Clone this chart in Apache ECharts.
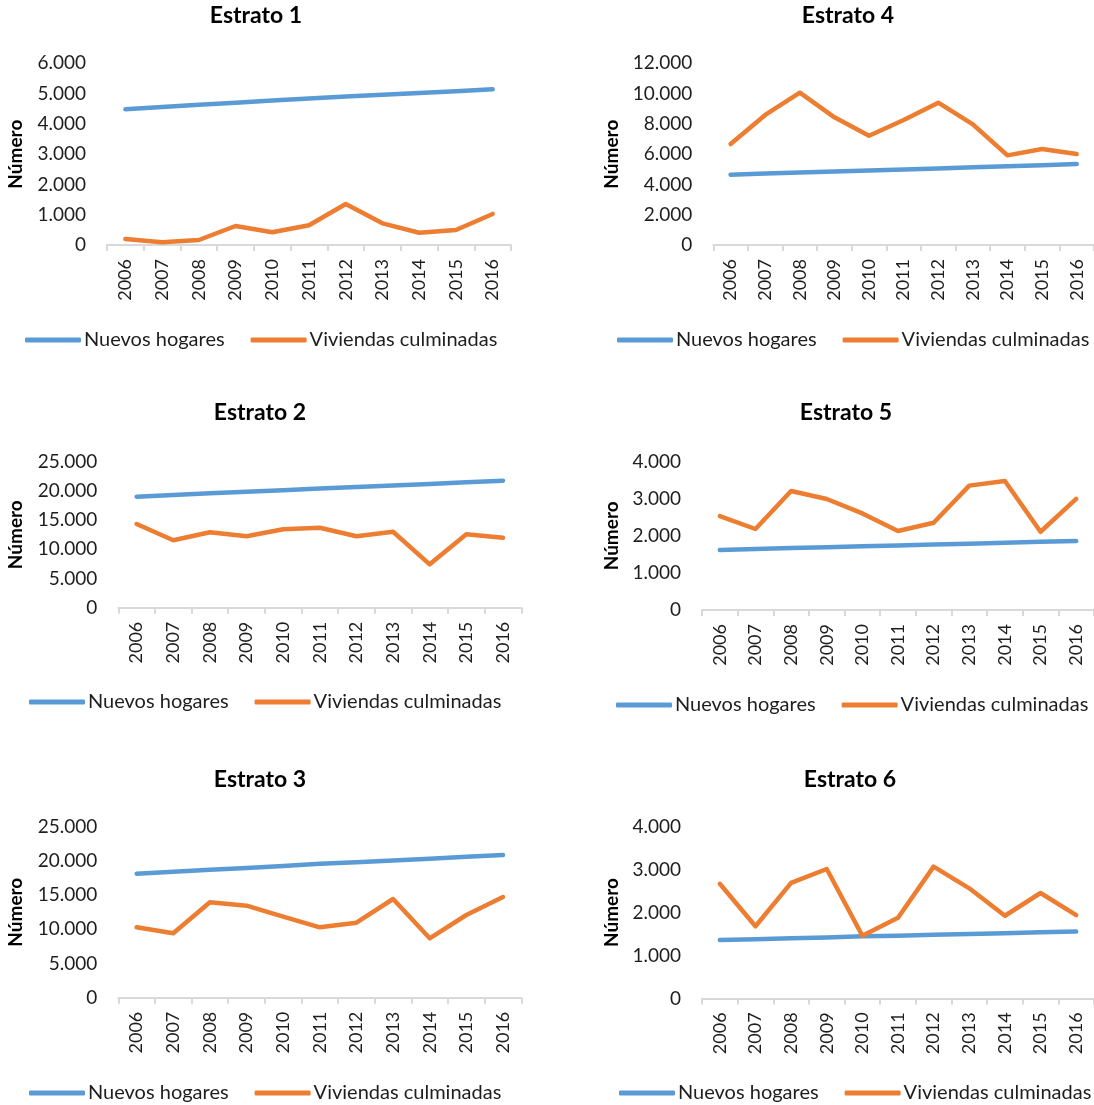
<!DOCTYPE html>
<html>
<head>
<meta charset="utf-8">
<title>Nuevos hogares y viviendas culminadas por estrato</title>
<script src="https://cdn.jsdelivr.net/npm/echarts@6/dist/echarts.min.js"></script>
<style>
  html, body { margin: 0; padding: 0; background: #ffffff; }
  #chart { width: 1094px; height: 1105px; }
</style>
</head>
<body>
<div id="chart"></div>
<script>
// Years on every category axis
const years = ['2006', '2007', '2008', '2009', '2010', '2011', '2012', '2013', '2014', '2015', '2016'];

const seriesNames = ['Nuevos hogares', 'Viviendas culminadas'];
const panelTitles = ['Estrato 1', 'Estrato 2', 'Estrato 3', 'Estrato 4', 'Estrato 5', 'Estrato 6'];

// Estrato 1
const hogares1 = [4480, 4560, 4630, 4700, 4770, 4840, 4900, 4960, 5020, 5080, 5140];
const viviendas1 = [200, 90, 165, 627, 420, 650, 1355, 715, 405, 495, 1025];

// Estrato 2
const hogares2 = [19010, 19300, 19580, 19850, 20120, 20390, 20660, 20930, 21190, 21470, 21750];
const viviendas2 = [14330, 11540, 12910, 12230, 13420, 13700, 12230, 13010, 7430, 12570, 11990];

// Estrato 3
const hogares3 = [18130, 18420, 18700, 18970, 19250, 19590, 19800, 20060, 20330, 20600, 20860];
const viviendas3 = [10290, 9420, 13950, 13450, 11840, 10290, 10970, 14430, 8680, 12090, 14720];

// Estrato 4
const hogares4 = [4640, 4720, 4790, 4860, 4920, 4990, 5060, 5130, 5200, 5270, 5350];
const viviendas4 = [6670, 8590, 10060, 8430, 7220, 8260, 9400, 7970, 5920, 6340, 6010];

// Estrato 5
const hogares5 = [1620, 1645, 1670, 1695, 1720, 1740, 1765, 1790, 1815, 1840, 1860];
const viviendas5 = [2535, 2185, 3210, 2995, 2605, 2130, 2355, 3355, 3480, 2110, 2995];

// Estrato 6
const hogares6 = [1360, 1380, 1400, 1420, 1445, 1460, 1480, 1500, 1520, 1540, 1560];
const viviendas6 = [2670, 1680, 2690, 3015, 1460, 1880, 3070, 2565, 1925, 2455, 1940];

// Value axis ranges per estrato
const axisMax = [6000, 25000, 25000, 12000, 4000, 4000];
const axisStep = [1000, 5000, 5000, 2000, 1000, 1000];

const hogares = [hogares1, hogares2, hogares3, hogares4, hogares5, hogares6];
const viviendas = [viviendas1, viviendas2, viviendas3, viviendas4, viviendas5, viviendas6];

// Panel boxes: plot area, title centre, axis-name gap and legend anchor
const panels = [
  { left: 107,   top: 63.3,  width: 404,   height: 181.7, titleX: 256, titleY: 4,   nameGap: 82, legendX: 25,  legendY: 330 },
  { left: 118.3, top: 461.7, width: 403,   height: 146,   titleX: 260, titleY: 401, nameGap: 93, legendX: 29,  legendY: 692 },
  { left: 118.3, top: 826.7, width: 403,   height: 171,   titleX: 260, titleY: 768, nameGap: 93, legendX: 29,  legendY: 1083 },
  { left: 713.3, top: 63.3,  width: 386.5, height: 181.7, titleX: 848, titleY: 4,   nameGap: 92, legendX: 617, legendY: 330 },
  { left: 702,   top: 461.7, width: 394,   height: 148.3, titleX: 846, titleY: 401, nameGap: 81, legendX: 616, legendY: 695 },
  { left: 702,   top: 826.7, width: 403,   height: 171.7, titleX: 850, titleY: 768, nameGap: 81, legendX: 619, legendY: 1083 }
];

const FONT = 'Lato, "Open Sans", sans-serif';
const TEXT = '#1e1e1e';
const BLUE = '#5b9bd5';
const ORANGE = '#ed7d31';

function thousands(v) {
  return String(v).replace(/\B(?=(\d{3})+(?!\d))/g, '.');
}

const option = {
  backgroundColor: '#ffffff',
  animation: false,
  title: [],
  legend: [],
  grid: [],
  xAxis: [],
  yAxis: [],
  series: []
};

panels.forEach(function (p, i) {
  option.title.push({
    text: panelTitles[i],
    left: p.titleX,
    top: p.titleY,
    textAlign: 'center',
    padding: 0,
    textStyle: { fontFamily: FONT, fontSize: 23, fontWeight: 'bold', color: '#000' }
  });

  option.grid.push({ left: p.left, top: p.top, width: p.width, height: p.height, containLabel: false });

  option.xAxis.push({
    type: 'category',
    gridIndex: i,
    data: years,
    boundaryGap: true,
    axisLine: { show: true, lineStyle: { color: '#d9d9d9', width: 2 } },
    axisTick: { show: true, length: 6, lineStyle: { color: '#d9d9d9', width: 2 } },
    axisLabel: { rotate: 90, margin: 14, fontFamily: FONT, fontSize: 18, color: TEXT, interval: 0 },
    splitLine: { show: false }
  });

  option.yAxis.push({
    type: 'value',
    gridIndex: i,
    min: 0,
    max: axisMax[i],
    interval: axisStep[i],
    name: 'Número',
    nameLocation: 'middle',
    nameGap: p.nameGap,
    nameTextStyle: { fontFamily: FONT, fontSize: 19, fontWeight: 'bold', color: '#000' },
    axisLine: { show: false },
    axisTick: { show: false },
    splitLine: { show: false },
    axisLabel: { margin: 21, fontFamily: FONT, fontSize: 19, color: TEXT, formatter: thousands }
  });

  option.legend.push({
    data: seriesNames,
    left: p.legendX,
    top: p.legendY,
    padding: 0,
    itemGap: 26,
    itemWidth: 56,
    itemHeight: 5,
    icon: 'roundRect',
    textStyle: { fontFamily: FONT, fontSize: 20, color: TEXT, padding: [0, 0, 0, -2] }
  });

  option.series.push({
    name: seriesNames[0],
    type: 'line',
    xAxisIndex: i,
    yAxisIndex: i,
    data: hogares[i],
    color: BLUE,
    showSymbol: false,
    symbol: 'none',
    lineStyle: { color: BLUE, width: 4.5, cap: 'round', join: 'round' }
  });
  option.series.push({
    name: seriesNames[1],
    type: 'line',
    xAxisIndex: i,
    yAxisIndex: i,
    data: viviendas[i],
    color: ORANGE,
    showSymbol: false,
    symbol: 'none',
    lineStyle: { color: ORANGE, width: 4.5, cap: 'round', join: 'round' }
  });
});

const chart = echarts.init(document.getElementById('chart'), null, { renderer: 'canvas' });
chart.setOption(option);
</script>
</body>
</html>
